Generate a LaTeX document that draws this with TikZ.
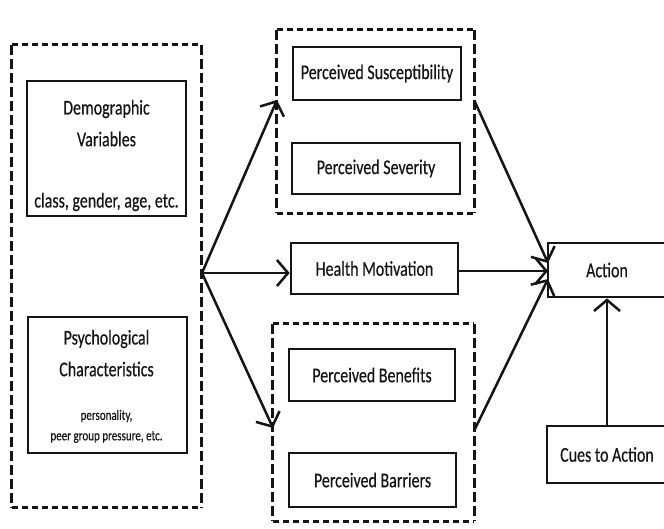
\documentclass[tikz,border=0pt]{standalone}
\usepackage{fontspec}
\setmainfont{Carlito}[FakeStretch=0.76,FakeBold=0.4]
\usetikzlibrary{arrows.meta}
\definecolor{ink}{HTML}{151515}
\tikzset{
  box/.style={draw=ink, line width=2.7pt, inner sep=0pt, text=ink, font=\fontsize{21}{24}\selectfont},
  grp/.style={draw=none, inner sep=0pt},
  hdash/.style={draw=ink, line width=3pt, dash pattern=on 6.5pt off 3.5pt},
  vdash/.style={draw=ink, line width=3pt, dash pattern=on 10pt off 4pt},
  txt/.style={text=ink, inner sep=0pt, font=\fontsize{21}{24}\selectfont},
  smalltxt/.style={text=ink, inner sep=0pt, font=\fontsize{14.5}{17}\selectfont},
  arr/.style={draw=ink, line width=2.5pt, -{Straight Barb[length=11pt,width=26pt,line width=2.5pt]}},
}
\newcommand{\dashframe}[1]{%
  \draw[hdash] (#1.north west) -- (#1.north east);
  \draw[hdash] (#1.south west) -- (#1.south east);
  \draw[vdash] (#1.north west) -- (#1.south west);
  \draw[vdash] (#1.north east) -- (#1.south east);
}
\begin{document}
\begin{tikzpicture}[x=1pt,y=-1pt]
\useasboundingbox (0,0) rectangle (664,528);
\clip (0,0) rectangle (664,528);
\fill[white] (0,0) rectangle (664,528);
% groups
\node[grp, minimum width=189pt, minimum height=462pt] (left) at (106.5,276) {};
\node[grp, minimum width=197pt, minimum height=183pt] (topg) at (375.5,121.5) {};
\node[grp, minimum width=201pt, minimum height=197pt] (botg) at (373.5,422.5) {};
\dashframe{left}
\dashframe{topg}
\dashframe{botg}
% left boxes
\node[box, minimum width=159pt, minimum height=135pt] (demo) at (106.5,148.5) {};
\node[txt] (demo1) at (106.5,109) {Demographic};
\node[txt] (demo2) at (106.5,139) {Variables};
\node[txt] (demo3) at (106.5,202) {class, gender, age, etc.};
\node[box, minimum width=159pt, minimum height=136pt] (psy) at (107.5,385) {};
\node[txt] (psy1) at (106.5,339) {Psychological};
\node[txt] (psy2) at (106.5,369) {Characteristics};
\node[smalltxt] (psy3) at (106.5,416) {personality,};
\node[smalltxt] (psy4) at (106.5,437) {peer group pressure, etc.};
% middle boxes
\node[box, minimum width=168pt, minimum height=53pt] (sus) at (377,73.5) {Perceived Susceptibility};
\node[box, minimum width=168pt, minimum height=51pt] (sev) at (376,168.5) {Perceived Severity};
\node[box, minimum width=167pt, minimum height=51pt] (hm) at (374.5,268.5) {Health Motivation};
\node[box, minimum width=166pt, minimum height=52pt] (ben) at (372,375) {Perceived Benefits};
\node[box, minimum width=167pt, minimum height=54pt] (bar) at (372.5,480) {Perceived Barriers};
% right boxes
\node[box, minimum width=118pt, minimum height=54pt] (act) at (607,270) {Action};
\node[box, minimum width=120pt, minimum height=57pt] (cues) at (607,454.5) {Cues to Action};
% connector points
\coordinate (hub) at (202,273);
\coordinate (tgIn) at (277,100);
\coordinate (bgIn) at (273,428);
\coordinate (tgOut) at (475,102);
\coordinate (bgOut) at (474,431);
\coordinate (actA) at (548,263);
\coordinate (actB) at (548,271);
\coordinate (actC) at (548,279);
% arrows
\draw[arr] (hub) -- (tgIn);
\draw[arr] (hub) -- (hm.west |- hub);
\draw[arr] (hub) -- (bgIn);
\draw[arr] (tgOut) -- (actA);
\draw[arr] (hm.east |- actB) -- (actB);
\draw[arr] (bgOut) -- (actC);
\draw[arr] (cues.north) -- (act.south);
\end{tikzpicture}
\end{document}
